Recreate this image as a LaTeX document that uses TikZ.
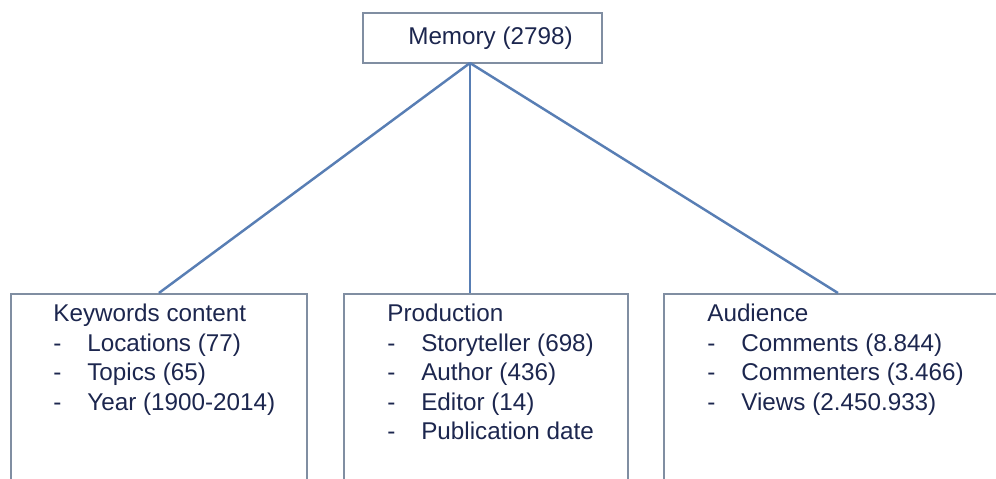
\documentclass[tikz,border=0pt]{standalone}
\usepackage{fontspec}
\setmainfont{Liberation Sans}
\definecolor{boxline}{RGB}{128,142,162}
\definecolor{linkline}{RGB}{88,126,180}
\definecolor{txt}{RGB}{28,38,78}
\newcommand{\itm}{\makebox[0.68cm][l]{-}}

\begin{document}
\begin{tikzpicture}[x=0.02cm, y=-0.02cm,
        every node/.style={font=\fontsize{13.8}{16.8}\selectfont, text=txt},
        box/.style={draw=boxline, line width=1.1pt, rectangle, inner sep=0pt},
        boxtext/.style={align=left, anchor=north west, inner sep=0pt},
        link/.style={draw=linkline, line width=1.4pt}]
        \useasboundingbox (0,0) rectangle (996,479);
        \clip (0,0) rectangle (996,479);

        % Boxes
        \node[box, minimum width=4.78cm, minimum height=1cm] (mem) at (482.5,38) {\hspace*{0.32cm}Memory (2798)};
        \node[box, anchor=north west, minimum width=5.92cm, minimum height=5cm] (kw) at (10,293) {};
        \node[box, anchor=north west, minimum width=5.68cm, minimum height=5cm] (prod) at (343,293) {};
        \node[box, anchor=north west, minimum width=6.96cm, minimum height=5cm] (aud) at (663,293) {};

        % Box texts
        \node[boxtext] (kwtext) at (53,304) {Keywords content\\\itm Locations (77)\\\itm Topics (65)\\\itm Year (1900-2014)};
        \node[boxtext] (prodtext) at (387,304) {Production\\\itm Storyteller (698)\\\itm Author (436)\\\itm Editor (14)\\\itm Publication date};
        \node[boxtext] (audtext) at (707,304) {Audience\\\itm Comments (8.844)\\\itm Commenters (3.466)\\\itm Views (2.450.933)};

        % Edges
        \coordinate (hub) at (470,63);
        \draw[link] (hub) -- (kw.north);
        \draw[link] (hub) -- (hub |- prod.north);
        \draw[link] (hub) -- (aud.north);
\end{tikzpicture}
\end{document}
